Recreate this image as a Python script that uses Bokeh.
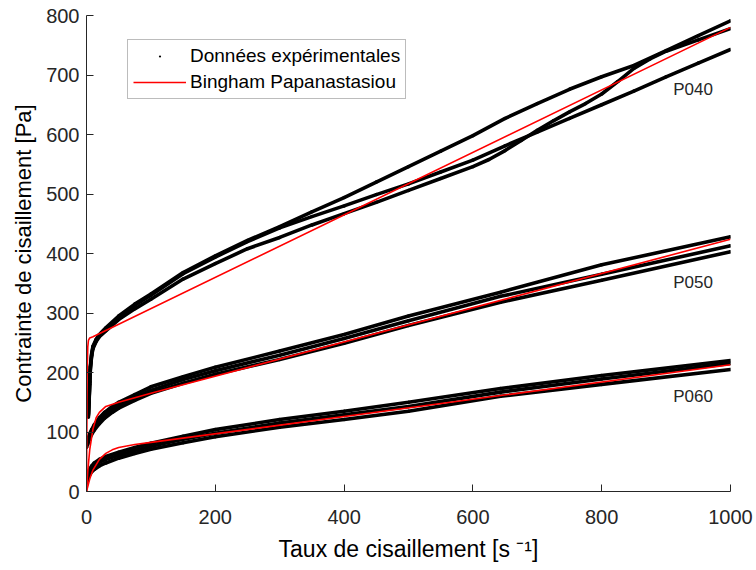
from bokeh.plotting import figure
from bokeh.models import Range1d, Legend, LegendItem, FixedTicker, ColumnDataSource
from bokeh.core.properties import value
from bokeh.embed import file_html
from bokeh.resources import INLINE

# ---------------- data ----------------
# P040 : three experimental runs
p040_x = [3, 4, 5, 6, 8, 10, 15, 20, 30, 50, 75, 100, 150, 200, 250, 300, 350, 400,
          450, 500, 550, 600, 650, 700, 750, 800, 850, 900, 950, 1000]
p040_run1 = [130, 155, 185, 210, 232, 244, 256, 264, 275, 295, 315, 332, 368, 396, 422, 445,
             470, 494, 520, 546, 572, 598, 627, 652, 676, 697, 716, 741, 766, 791]
p040_run2 = [128, 153, 183, 208, 230, 242, 254, 262, 273, 293, 313, 330, 366, 394, 420, 443,
             462, 480, 499, 517, 537, 557, 581, 604, 627, 650, 673, 697, 720, 743]
p040_run3_x = [3, 4, 5, 6, 8, 10, 15, 20, 30, 50, 75, 100, 150, 200, 250, 300, 350, 400,
               450, 500, 550, 600, 625, 650, 675, 700, 725, 750, 775, 800, 825, 850, 875,
               900, 950, 1000]
p040_run3 = [125, 150, 180, 205, 228, 240, 252, 260, 270, 289, 307, 323, 357, 383, 408, 427,
             448, 467, 486, 506, 526, 546, 558, 573, 590, 607, 623, 638, 652, 668, 689, 711, 727,
             740, 759, 778]

# P050 : three experimental runs
p050_x = [0, 2, 5, 8, 12, 20, 28, 40, 50, 75, 100, 150, 200, 300, 400, 500, 643, 800, 1000]
p050_run1 = [82, 88, 97, 104, 112, 124, 133, 143, 150, 163, 176, 193, 209, 236, 264, 295, 335, 381, 428]
p050_run2 = [78, 84, 93, 100, 107, 119, 128, 138, 145, 158, 170, 188, 203, 229, 257, 287, 328, 365, 413]
p050_run3 = [74, 80, 89, 96, 103, 114, 123, 133, 140, 153, 165, 182, 197, 222, 249, 279, 318, 355, 403]

# P060 : three experimental runs
p060_x = [0, 2, 5, 8, 12, 20, 30, 50, 75, 100, 150, 200, 300, 400, 500, 643, 800, 1000]
p060_run1 = [22, 30, 38, 43, 48, 54, 59, 66, 74, 81, 93, 104, 121, 135, 150, 173, 195, 220]
p060_run2 = [18, 26, 33, 38, 43, 49, 54, 61, 69, 76, 88, 98, 115, 129, 143, 167, 189, 215]
p060_run3 = [14, 21, 28, 33, 37, 43, 48, 56, 64, 71, 82, 92, 108, 121, 135, 160, 180, 205]

# Bingham Papanastasiou fits
fit040_x = [0, 1, 2, 3, 5, 10, 1000]
fit040_y = [0, 198, 243, 254, 258, 260, 780]
fit050_x = [0, 2, 5, 10, 15, 20, 30, 50, 100, 1000]
fit050_y = [0, 34, 70, 105, 124, 133, 143, 150, 165, 424]
fit060_x = [0, 5, 10, 20, 30, 40, 50, 75, 100, 1000]
fit060_y = [0, 21, 36, 54, 64, 70, 74, 79, 82.5, 213]

labels = ["P040", "P050", "P060"]
label_x = [911, 911, 911]
label_y = [676, 351, 160]

x_ticks = [0, 200, 400, 600, 800, 1000]
y_ticks = [0, 100, 200, 300, 400, 500, 600, 700, 800]

FONT = "Liberation Sans"
AX = "#262626"

p = figure(width=756, height=570, output_backend="svg", toolbar_location=None,
           x_range=Range1d(0, 1000), y_range=Range1d(0, 800),
           min_border_left=86, min_border_right=26, min_border_top=15, min_border_bottom=79)
p.outline_line_color = None
p.xgrid.visible = False
p.ygrid.visible = False
p.background_fill_color = "white"

for ax in (p.xaxis[0], p.yaxis[0]):
    ax.axis_line_color = AX
    ax.major_tick_line_color = AX
    ax.major_tick_in = 7
    ax.major_tick_out = 0
    ax.minor_tick_line_color = None
    ax.major_label_text_font = FONT
    ax.major_label_text_font_size = "20px"
    ax.major_label_text_color = AX
    ax.axis_label_text_font = FONT
    ax.axis_label_text_font_style = "normal"
    ax.axis_label_text_color = "black"

p.xaxis.axis_label_text_font_size = "23px"
p.yaxis.axis_label_text_font_size = "22px"
p.xaxis.ticker = FixedTicker(ticks=x_ticks)
p.yaxis.ticker = FixedTicker(ticks=y_ticks)
p.xaxis.axis_label = "Taux de cisaillement [s \u207b\u00b9]"
p.yaxis.axis_label = "Contrainte de cisaillement [Pa]"
p.xaxis.major_label_standoff = 18
p.yaxis.major_label_standoff = 7
p.xaxis.axis_label_standoff = 9
p.yaxis.axis_label_standoff = 7

# experimental data: dense dots -> thick black traces + dots
dot_r = None
for xs, runs in ((p040_x, (p040_run1, p040_run2)),
                 (p040_run3_x, (p040_run3,)),
                 (p050_x, (p050_run1, p050_run2, p050_run3)),
                 (p060_x, (p060_run1, p060_run2, p060_run3))):
    for ys in runs:
        p.line(xs, ys, line_color="black", line_width=3.6)
        dot_r = p.scatter(xs, ys, marker="dot", size=14, line_color="black",
                          fill_color="black")

fit_r = None
for xs, ys in ((fit040_x, fit040_y), (fit050_x, fit050_y), (fit060_x, fit060_y)):
    fit_r = p.line(xs, ys, line_color="#ff0000", line_width=1.6)

src = ColumnDataSource(dict(x=label_x, y=label_y, t=labels))
p.text(x="x", y="y", text="t", source=src, text_font=value(FONT), text_font_size="17px",
       text_color=AX, text_align="left", text_baseline="middle")

legend = Legend(items=[LegendItem(label="Données expérimentales", renderers=[dot_r]),
                       LegendItem(label="Bingham Papanastasiou", renderers=[fit_r])],
                location=(41, 392), orientation="vertical",
                label_text_font=FONT, label_text_font_size="19px", label_text_color="black",
                glyph_width=53, glyph_height=22, label_height=22, label_standoff=4,
                padding=5, spacing=4, margin=0,
                border_line_color="#7a7a7a", border_line_width=1,
                background_fill_color="white", background_fill_alpha=1.0)
p.add_layout(legend)

open("out.html", "w").write(file_html(p, INLINE))
